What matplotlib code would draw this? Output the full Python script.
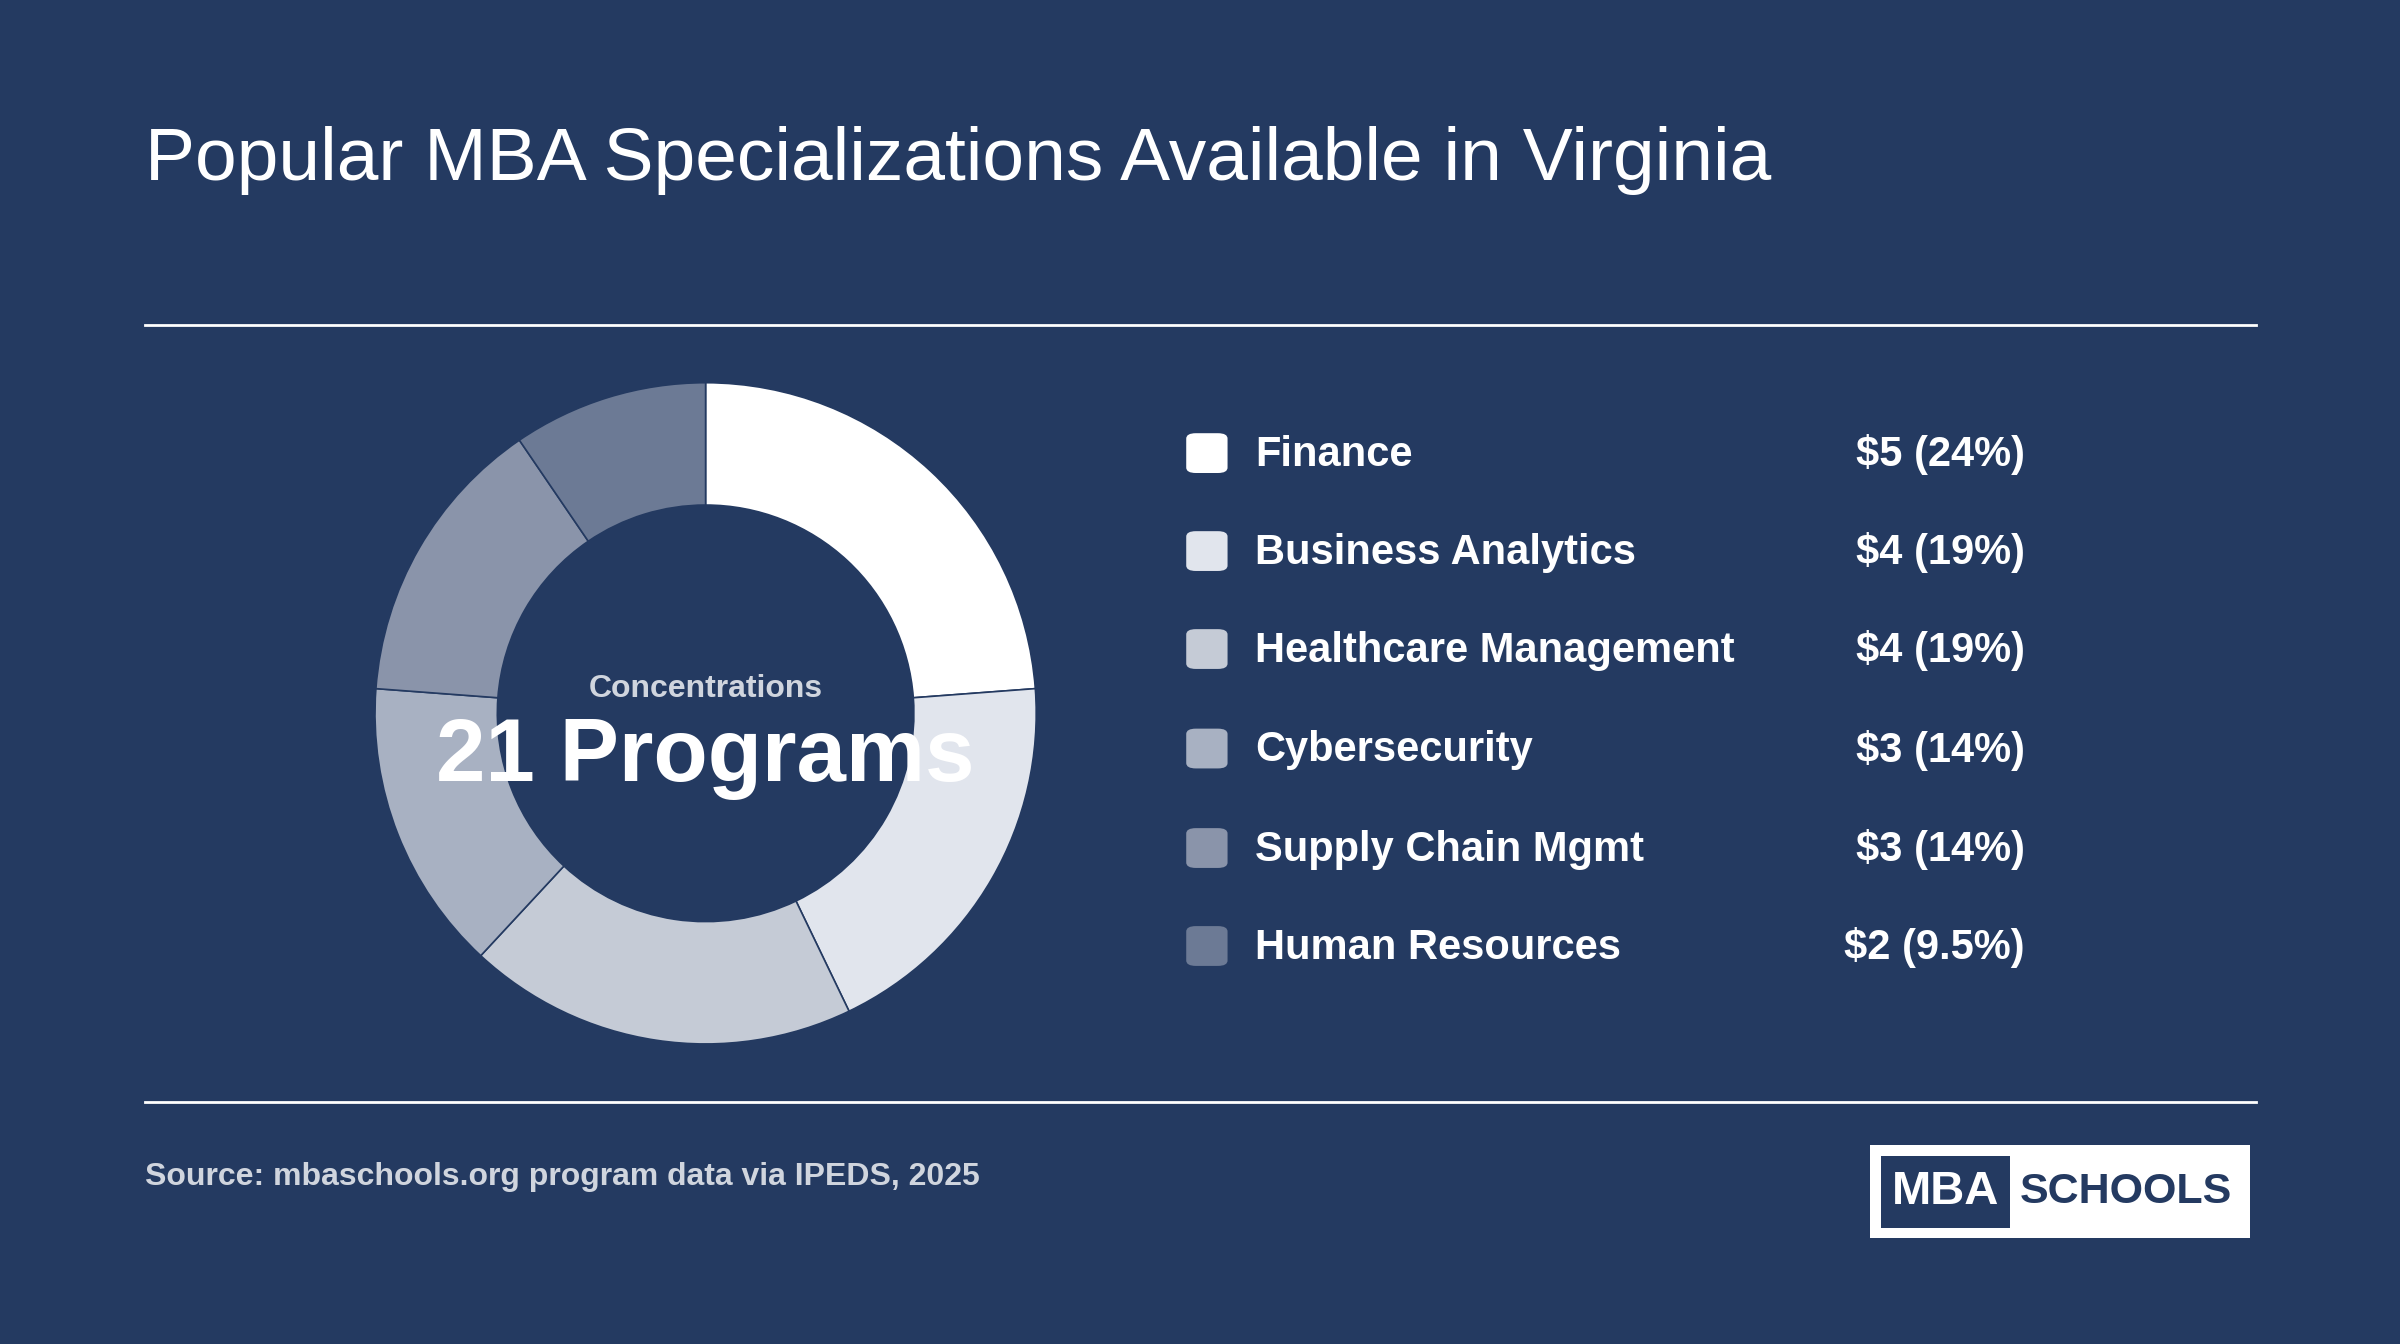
import matplotlib
matplotlib.use("Agg")
import matplotlib.pyplot as plt
from matplotlib.patches import FancyBboxPatch, Rectangle

plt.rcParams['font.family'] = ['Liberation Sans', 'DejaVu Sans']

categories = ["Finance", "Business Analytics", "Healthcare Management",
              "Cybersecurity", "Supply Chain Mgmt", "Human Resources"]
values = [5, 4, 4, 3, 3, 2]
value_labels = ["$5 (24%)", "$4 (19%)", "$4 (19%)", "$3 (14%)", "$3 (14%)", "$2 (9.5%)"]
colors = ["#ffffff", "#e1e5ed", "#c5cbd6", "#a8b1c2", "#8a94aa", "#6c7a95"]
title = "Popular MBA Specializations Available in Virginia"
center_small = "Concentrations"
center_big = "21 Programs"
source = "Source: mbaschools.org program data via IPEDS, 2025"

BG = "#243a61"
W, H = 1568, 878
fig = plt.figure(figsize=(12, 6.72), dpi=200, facecolor=BG)

def fx(x): return x / W
def fy(y): return 1 - y / H

fig.text(fx(95), fy(105), title, color="white", fontsize=27, va="center", ha="left")
for y in (212, 720):
    fig.add_artist(plt.Line2D([fx(95), fx(1474)], [fy(y), fy(y)], color="white", lw=1.0))

r = 216
ax = fig.add_axes([fx(461 - r), fy(466 + r), 2 * r / W, 2 * r / H])
ax.set_facecolor(BG)
ax.pie(values, colors=colors, startangle=90, counterclock=False, radius=1.0,
       wedgeprops=dict(width=0.37, edgecolor=BG, linewidth=0.6))
ax.set_xlim(-1, 1); ax.set_ylim(-1, 1)
ax.set_aspect("equal"); ax.axis("off")

fig.text(fx(461), fy(450), center_small, color="#d0d5de", fontsize=11.5,
         fontweight="bold", ha="center", va="center")
fig.text(fx(461), fy(495), center_big, color="white", fontsize=32,
         fontweight="bold", ha="center", va="center")

rows = [296, 360, 424, 489, 554, 618]
for y, lab, val, c in zip(rows, categories, value_labels, colors):
    fig.add_artist(FancyBboxPatch((fx(775), fy(y + 13)), fx(27), 26 / H,
                                  boxstyle="round,pad=0,rounding_size=0.004",
                                  transform=fig.transFigure, facecolor=c, edgecolor="none"))
    fig.text(fx(820), fy(y + 1), lab, color="white", fontsize=15, fontweight="bold",
             ha="left", va="center")
    fig.text(fx(1323), fy(y + 1), val, color="white", fontsize=15, fontweight="bold",
             ha="right", va="center")

fig.text(fx(95), fy(769), source, color="#d0d5de", fontsize=11.5, fontweight="bold",
         ha="left", va="center")

fig.add_artist(Rectangle((fx(1222), fy(809)), fx(248), 61 / H, transform=fig.transFigure,
                         facecolor="white", edgecolor="none"))
fig.add_artist(Rectangle((fx(1229), fy(802)), fx(84), 47 / H, transform=fig.transFigure,
                         facecolor=BG, edgecolor="none"))
fig.text(fx(1271), fy(779), "MBA", color="white", fontsize=17, fontweight="bold",
         ha="center", va="center")
fig.text(fx(1389), fy(779), "SCHOOLS", color=BG, fontsize=15.5, fontweight="bold",
         ha="center", va="center")

fig.savefig("out.png", dpi=200, facecolor=BG)
